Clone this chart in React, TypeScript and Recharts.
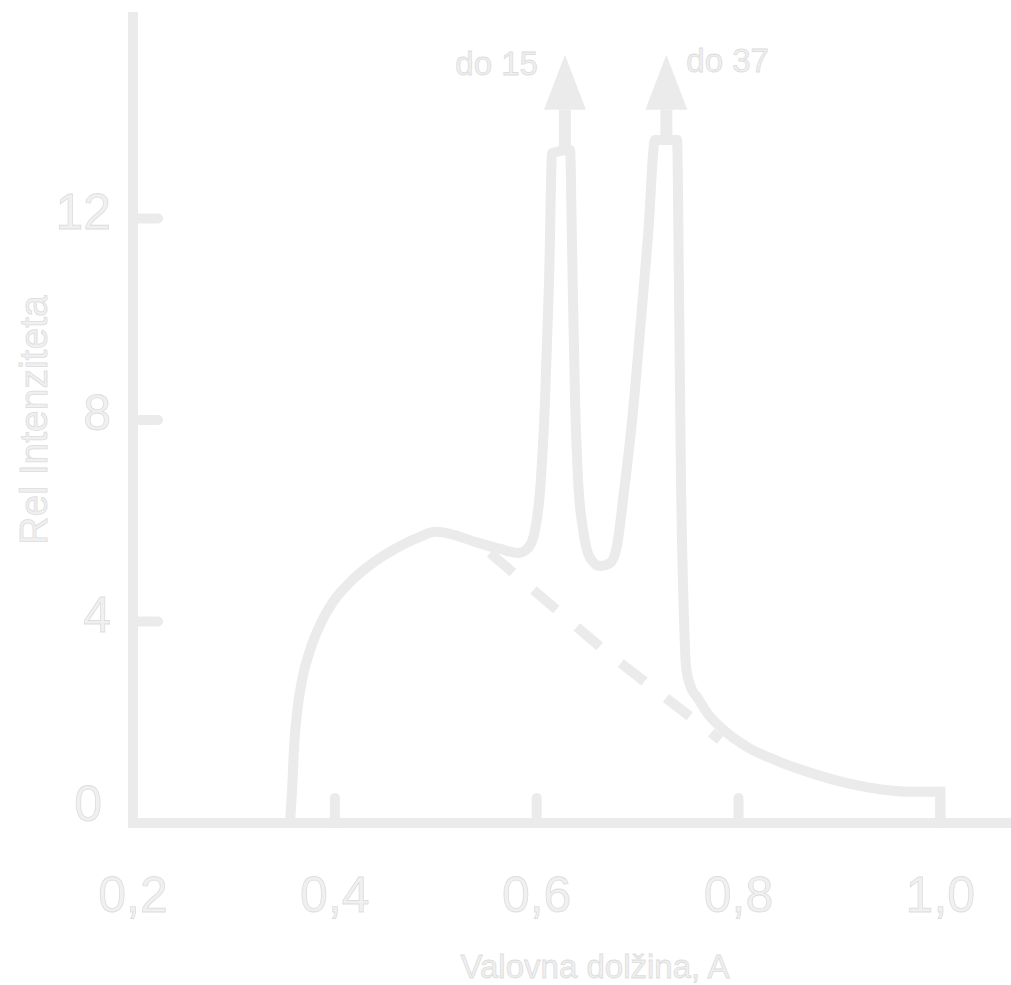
import React from 'react';
import { ComposedChart, Line, XAxis, YAxis, Scatter } from 'recharts';

// ---- data ----
const spectrumX = [
  0.3556, 0.3576, 0.3596, 0.3625, 0.3675, 0.3754, 0.3853, 0.3982, 0.415, 0.4349,
  0.4597, 0.4844, 0.4993, 0.5142, 0.539, 0.5638, 0.5816, 0.5915, 0.5984, 0.6034,
  0.6083, 0.6123, 0.6153, 0.6331, 0.6351, 0.638, 0.641, 0.646, 0.653, 0.6629,
  0.6728, 0.6797, 0.6867, 0.6946, 0.7025, 0.7104, 0.7173, 0.7391, 0.7411, 0.743,
  0.746, 0.748, 0.754, 0.759, 0.769, 0.785, 0.8085, 0.8363, 0.871, 0.9076,
  0.94, 0.97, 1.0,
];
const spectrumY = [
  0, 0.65, 1.51, 2.18, 2.84, 3.43, 3.93, 4.39, 4.78, 5.12,
  5.44, 5.68, 5.78, 5.74, 5.58, 5.44, 5.36, 5.46, 5.82, 6.61,
  8.4, 10.78, 13.3, 13.36, 11.38, 8.4, 6.81, 5.82, 5.26, 5.1,
  5.16, 5.52, 6.61, 8.0, 9.79, 11.67, 13.56, 13.56, 10.38, 6.81,
  4.03, 3.1, 2.64, 2.5, 2.18, 1.85, 1.51, 1.25, 1.0, 0.79,
  0.67, 0.62, 0.62,
];
// the step down to zero at the end of the spectrum
const cutoffX = [1.0, 1.0];
const cutoffY = [0.62, 0];

const backgroundX = [0.5538, 0.6668, 0.7818];
const backgroundY = [5.36, 3.43, 1.65];

const arrowX = [0.628, 0.7285];
const arrowFrom = [13.3, 13.5];
const arrowTo = [14.16, 14.16];
const arrowLabels = ['do 15', 'do 37'];

const xTicks = [0.2, 0.4, 0.6, 0.8, 1.0];
const xTickLabels = ['0,2', '0,4', '0,6', '0,8', '1,0'];
const yTicks = [0, 4, 8, 12];
const yTickLabels = ['0', '4', '8', '12'];
const xTitle = 'Valovna dolžina, A';
const yTitle = 'Rel Intenziteta';

// ---- derived tables ----
const spectrum = spectrumX.map((x, i) => ({ x, y: spectrumY[i] }));
const cutoff = cutoffX.map((x, i) => ({ x, y: cutoffY[i] }));
const background = backgroundX.map((x, i) => ({ x, y: backgroundY[i] }));
const arrowShafts = arrowX.map((x, i) => [
  { x, y: arrowFrom[i] },
  { x, y: arrowTo[i] },
]);
const arrowHeads = arrowX.map((x, i) => ({ x, y: arrowTo[i], label: arrowLabels[i], side: i === 0 ? 'left' : 'right' }));

// ---- styles ----
const COLOR = '#ebebeb';
const TEXT_FILL = '#f0f0f0';
const TEXT_STROKE = '#dddddd';
const FONT = '"Liberation Sans", Arial, sans-serif';

const textStyle = {
  fill: TEXT_FILL,
  stroke: TEXT_STROKE,
  strokeWidth: 0.8,
  fontFamily: FONT,
};

const XTick = (props: any) => {
  const { x, y, payload } = props;
  const idx = xTicks.indexOf(payload.value);
  return (
    <text x={x} y={y + 112} textAnchor="middle" fontSize={50} {...textStyle}>
      {xTickLabels[idx]}
    </text>
  );
};

const YTick = (props: any) => {
  const { x, y, payload } = props;
  const idx = yTicks.indexOf(payload.value);
  const isZero = payload.value === 0;
  return (
    <text
      x={isZero ? x - 54 : x - 45}
      y={isZero ? y - 2 : y + 10}
      textAnchor="end"
      fontSize={50}
      {...textStyle}
    >
      {yTickLabels[idx]}
    </text>
  );
};

const ArrowHead = (props: any) => {
  const { cx, cy, payload } = props;
  const left = payload.side === 'left';
  return (
    <g>
      <polygon points={`${cx},${cy - 55} ${cx - 21},${cy} ${cx + 21},${cy}`} fill={COLOR} />
      <text
        x={left ? cx - 27 : cx + 20}
        y={left ? cy - 35 : cy - 38}
        textAnchor={left ? 'end' : 'start'}
        fontSize={33}
        {...textStyle}
      >
        {payload.label}
      </text>
    </g>
  );
};

export default function App() {
  return (
    <div style={{ position: 'absolute', left: 0, top: 0, width: 1011, height: 985, background: '#fff' }}>
      <ComposedChart width={1011} height={985} margin={{ top: 17, right: 0, bottom: 0, left: 0 }}>
        <XAxis
          type="number"
          dataKey="x"
          domain={[0.2, 1.07]}
          ticks={xTicks}
          allowDataOverflow
          height={162}
          tickSize={-25}
          tickLine={{ stroke: COLOR, strokeWidth: 10, strokeLinecap: 'round' }}
          axisLine={{ stroke: COLOR, strokeWidth: 10, strokeLinecap: 'square' }}
          tick={<XTick />}
          label={{
            content: (p: any) => {
              const vb = p.viewBox;
              return (
                <text x={vb.x + 462} y={vb.y + 155} textAnchor="middle" fontSize={33} {...textStyle}>
                  {xTitle}
                </text>
              );
            },
          }}
        />
        <YAxis
          type="number"
          dataKey="y"
          domain={[0, 16]}
          ticks={yTicks}
          allowDataOverflow
          width={133}
          tickSize={-25}
          tickLine={{ stroke: COLOR, strokeWidth: 10, strokeLinecap: 'round' }}
          axisLine={{ stroke: COLOR, strokeWidth: 10, strokeLinecap: 'square' }}
          tick={<YTick />}
          label={{
            content: (p: any) => {
              const vb = p.viewBox;
              const cx = vb.x + 47;
              const cy = vb.y + vb.height / 2;
              return (
                <text
                  x={cx}
                  y={cy}
                  textAnchor="middle"
                  fontSize={39}
                  transform={`rotate(-90, ${cx}, ${cy})`}
                  {...textStyle}
                >
                  {yTitle}
                </text>
              );
            },
          }}
        />
        <Line
          data={background}
          dataKey="y"
          type="linear"
          stroke={COLOR}
          strokeWidth={10}
          strokeDasharray="30 27"
          dot={false}
          activeDot={false}
          isAnimationActive={false}
        />
        <Line
          data={spectrum}
          dataKey="y"
          type="monotoneX"
          stroke={COLOR}
          strokeWidth={10}
          strokeLinejoin="round"
          strokeLinecap="butt"
          dot={false}
          activeDot={false}
          isAnimationActive={false}
        />
        <Line
          data={cutoff}
          dataKey="y"
          type="linear"
          stroke={COLOR}
          strokeWidth={10}
          strokeLinecap="square"
          dot={false}
          activeDot={false}
          isAnimationActive={false}
        />
        {arrowShafts.map((d, i) => (
          <Line
            key={'shaft' + i}
            data={d}
            dataKey="y"
            type="linear"
            stroke={COLOR}
            strokeWidth={12}
            dot={false}
            activeDot={false}
            isAnimationActive={false}
          />
        ))}
        <Scatter data={arrowHeads} dataKey="y" shape={<ArrowHead />} isAnimationActive={false} />
      </ComposedChart>
    </div>
  );
}
